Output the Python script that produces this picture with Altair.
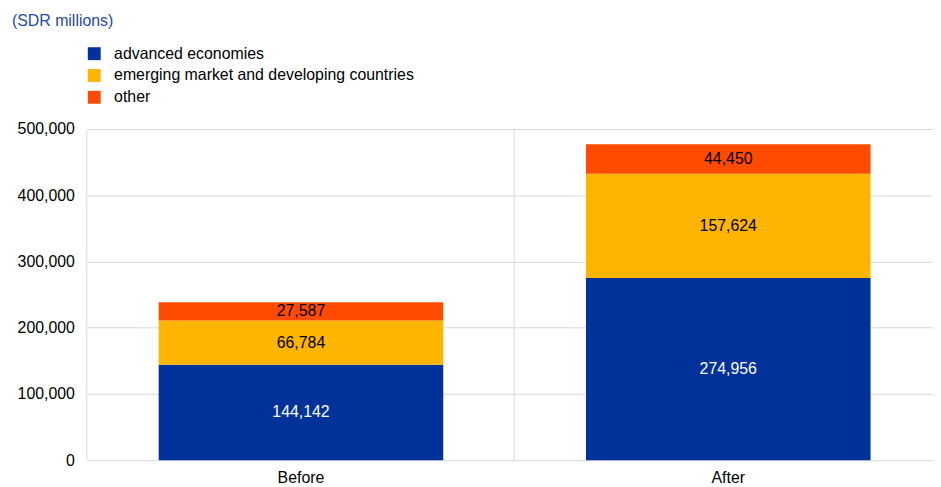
import altair as alt
import pandas as pd

categories = ["Before", "After"]
series = ["advanced economies", "emerging market and developing countries", "other"]
advanced = [144142, 274956]
emerging = [66784, 157624]
other = [27587, 44450]
colors = ["#003299", "#ffb400", "#ff4b00"]

rows = []
for i, c in enumerate(categories):
    for k, (s, vals) in enumerate(zip(series, [advanced, emerging, other])):
        rows.append({"category": c, "series": s, "value": vals[i], "order": k})
df = pd.DataFrame(rows)

FONT = "Liberation Sans"
FS = 16

base = alt.Chart(df).transform_stack(
    stack="value", groupby=["category"], as_=["y0", "y1"],
    sort=[alt.SortField("order", order="ascending")]
).transform_calculate(mid="(datum.y0 + datum.y1) / 2")

x = alt.X("category:N", sort=categories, title=None,
          scale=alt.Scale(paddingInner=0.334, paddingOuter=0.167),
          axis=alt.Axis(labelAngle=0, grid=True, bandPosition=-0.2508, ticks=False, domain=False,
                        labelPadding=10, labelFontSize=FS, labelColor="#000000",
                        labelFont=FONT, gridColor="#d9d9d9"))

y = alt.Y("y0:Q", title=None, scale=alt.Scale(domain=[0, 500000], nice=False),
          axis=alt.Axis(values=[0, 100000, 200000, 300000, 400000, 500000], format=",.0f",
                        ticks=False, domain=False, labelPadding=13, labelFontSize=FS,
                        labelColor="#000000", labelFont=FONT, gridColor="#d9d9d9"))

bars = base.mark_bar().encode(
    x=x,
    y=y,
    y2="y1:Q",
    color=alt.Color("series:N", scale=alt.Scale(domain=series, range=colors),
                    legend=alt.Legend(title=None, orient="none", legendX=-1, legendY=-84,
                                      symbolType="square", symbolSize=169, symbolStrokeWidth=0,
                                      labelFontSize=FS, labelFont=FONT, labelColor="#000000",
                                      labelOffset=12, rowPadding=6, symbolOpacity=1,
                                      labelLimit=1000)),
)

labels = base.mark_text(fontSize=FS, font=FONT).encode(
    x=alt.X("category:N", sort=categories),
    y=alt.Y("mid:Q", axis=alt.Axis(format=",.0f")),
    text=alt.Text("value:Q", format=","),
    color=alt.condition(alt.datum.series == "advanced economies", alt.value("#ffffff"), alt.value("#000000")),
)

chart = alt.layer(bars, labels).properties(
    width=862, height=334,
    title=alt.TitleParams("(SDR millions)", anchor="start", frame="group", dx=-76, dy=-13,
                          fontSize=FS, font=FONT, fontWeight="normal", color="#1f4aa0"),
    autosize=alt.AutoSizeParams(type="none"),
    padding={"left": 80, "top": 120, "right": -9, "bottom": 25},
).configure_view(stroke=None)

chart.save("out.html", embed_options={"renderer": "svg", "actions": False})
